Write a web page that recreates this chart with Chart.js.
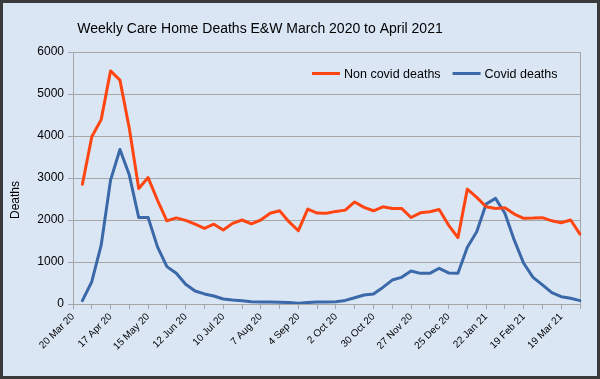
<!DOCTYPE html>
<html>
<head>
<meta charset="utf-8">
<script src="https://cdn.jsdelivr.net/npm/chart.js@4"></script>
<style>
  body { margin: 0; background: #dbe6f5; }
  canvas { display: block; }
</style>
</head>
<body>
<canvas id="myChart" width="600" height="379"></canvas>
<script>
"use strict";

// week ending dates, every 4th one is labelled
const weeks = [
  '20 Mar 20', '27 Mar 20', '3 Apr 20', '10 Apr 20', '17 Apr 20', '24 Apr 20', '1 May 20', '8 May 20',
  '15 May 20', '22 May 20', '29 May 20', '5 Jun 20', '12 Jun 20', '19 Jun 20', '26 Jun 20', '3 Jul 20',
  '10 Jul 20', '17 Jul 20', '24 Jul 20', '31 Jul 20', '7 Aug 20', '14 Aug 20', '21 Aug 20', '28 Aug 20',
  '4 Sep 20', '11 Sep 20', '18 Sep 20', '25 Sep 20', '2 Oct 20', '9 Oct 20', '16 Oct 20', '23 Oct 20',
  '30 Oct 20', '6 Nov 20', '13 Nov 20', '20 Nov 20', '27 Nov 20', '4 Dec 20', '11 Dec 20', '18 Dec 20',
  '25 Dec 20', '1 Jan 21', '8 Jan 21', '15 Jan 21', '22 Jan 21', '29 Jan 21', '5 Feb 21', '12 Feb 21',
  '19 Feb 21', '26 Feb 21', '5 Mar 21', '12 Mar 21', '19 Mar 21', '26 Mar 21', '2 Apr 21'
];

const nonCovid = [
  null, 2850, 3980, 4390, 5550, 5330, 4180, 2750, 3010, 2470, 1980, 2050, 1990, 1900,
  1800, 1900, 1760, 1920, 2000, 1910, 2000, 2160, 2220, 1960, 1745, 2260, 2165, 2160,
  2205, 2235, 2430, 2300, 2220, 2315, 2275, 2275, 2060, 2170, 2195, 2250, 1880, 1580,
  2735, 2540, 2315, 2275, 2290, 2140, 2040, 2045, 2055, 1980, 1935, 2000, 1665
];

const covid = [
  null, 80, 530, 1400, 2950, 3680, 3070, 2060, 2060, 1360, 890, 730, 470, 310,
  240, 190, 120, 95, 80, 55, 48, 48, 40, 35, 20, 35, 45, 50,
  55, 85, 150, 215, 240, 395, 570, 635, 785, 730, 730, 850, 740, 730,
  1350, 1720, 2380, 2515, 2160, 1520, 970, 635, 455, 270, 175, 135, 80
];

const chartTitle = 'Weekly Care Home Deaths E&W March 2020 to April 2021';
const yTitle = 'Deaths';

const bg = '#dbe6f5';
const gridGrey = '#a6a6a6';
const fontFamily = '"Liberation Sans", Arial, sans-serif';

Chart.defaults.font.family = fontFamily;
Chart.defaults.color = '#000';

// background, frame, title, axis title and legend
const decor = {
  id: 'decor',
  beforeDraw(chart) {
    const ctx = chart.ctx;
    ctx.save();
    ctx.fillStyle = bg;
    ctx.fillRect(0, 0, chart.width, chart.height);
    ctx.restore();
  },
  afterDraw(chart) {
    const ctx = chart.ctx;
    ctx.save();
    ctx.strokeStyle = '#3a3a3a';
    ctx.lineWidth = 3;
    ctx.strokeRect(1.5, 1.5, chart.width - 3, chart.height - 3);

    ctx.fillStyle = '#000';
    ctx.textAlign = 'center';
    ctx.font = '14px ' + fontFamily;
    ctx.fillText(chartTitle, 260, 33);

    // legend inside the plot, top right
    ctx.font = '12.5px ' + fontFamily;
    ctx.textAlign = 'left';
    let x = 312;
    chart.data.datasets.forEach(ds => {
      ctx.strokeStyle = ds.borderColor;
      ctx.lineWidth = 3;
      ctx.beginPath();
      ctx.moveTo(x, 73.5);
      ctx.lineTo(x + 28, 73.5);
      ctx.stroke();
      ctx.fillText(ds.label, x + 32, 78);
      x += 32 + ctx.measureText(ds.label).width + 12;
    });

    ctx.font = '12px ' + fontFamily;
    ctx.textAlign = 'center';
    ctx.translate(19, 200);
    ctx.rotate(-Math.PI / 2);
    ctx.fillText(yTitle, 0, 0);
    ctx.restore();
  }
};

const ctx = document.querySelector('#myChart').getContext('2d');

const data = {
  labels: weeks,
  datasets: [
    {
      label: 'Non covid deaths',
      data: nonCovid,
      borderColor: '#ff4612',
      backgroundColor: '#ff4612',
    },
    {
      label: 'Covid deaths',
      data: covid,
      borderColor: '#3a68a8',
      backgroundColor: '#3a68a8',
    },
  ]
};

const config = {
  type: 'line',
  data: data,
  plugins: [decor],
  options: {
    responsive: false,
    animation: false,
    layout: {
      padding: { top: 52, right: 20, left: 0, bottom: 0 }
    },
    elements: {
      point: { radius: 0 },
      line: { borderWidth: 3, tension: 0, borderJoinStyle: 'round', borderCapStyle: 'round' }
    },
    plugins: {
      legend: { display: false },
      title: { display: false },
      tooltip: { enabled: false }
    },
    scales: {
      x: {
        offset: false,
        grid: {
          color: c => c.index === weeks.length - 1 ? gridGrey : 'transparent',
          tickColor: c => c.index % 2 === 0 ? gridGrey : 'transparent',
          tickLength: 5
        },
        border: { color: gridGrey },
        ticks: {
          autoSkip: false,
          maxRotation: 45,
          minRotation: 45,
          padding: 2,
          font: { size: 10 },
          callback: (v, i) => i % 4 === 0 ? weeks[i] : ''
        },
        afterFit: s => { s.height = 75; }
      },
      y: {
        min: 0,
        max: 6000,
        ticks: { stepSize: 1000, padding: 4, font: { size: 12 }, callback: v => String(v) },
        grid: { color: gridGrey, tickLength: 5 },
        border: { color: gridGrey },
        afterFit: s => { s.width = 73; }
      }
    }
  }
};

const myChart = new Chart(ctx, config);
</script>
</body>
</html>
